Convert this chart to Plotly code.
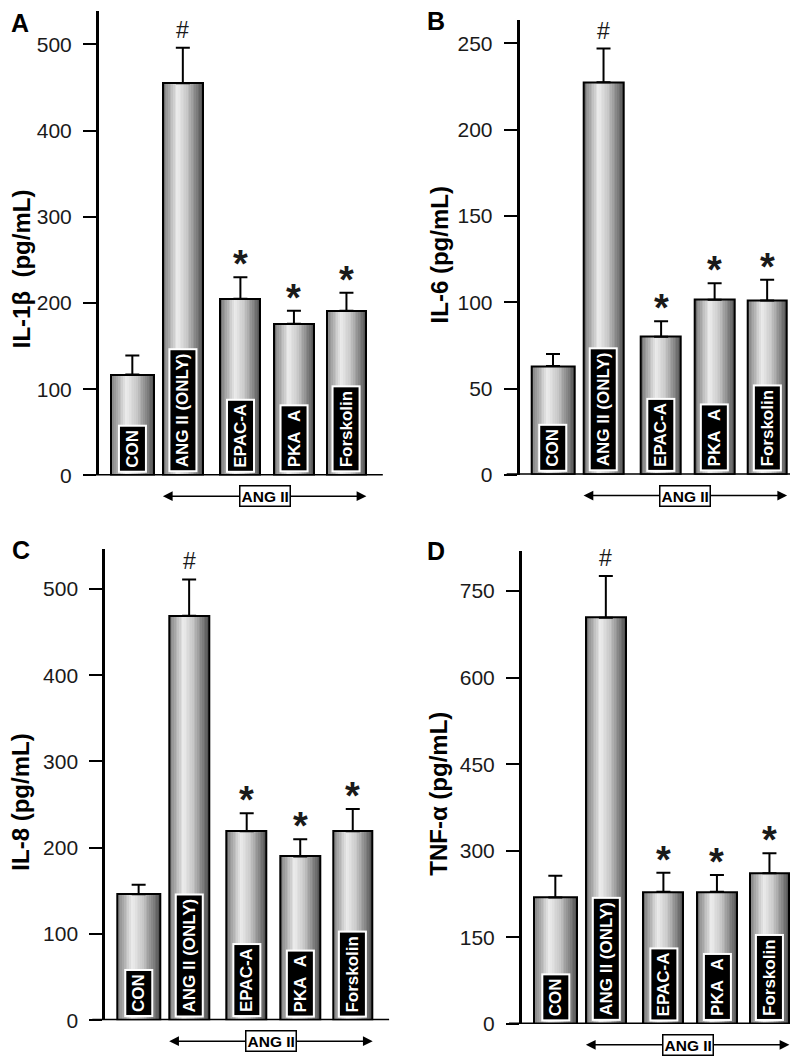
import numpy as np
import plotly.graph_objects as go

W, H = 798, 1057

# ---------------- data ----------------
groups = ["CON", "ANG II (ONLY)", "EPAC-A", "PKA\u00a0\u00a0A", "Forskolin"]
marks = ["", "#", "*", "*", "*"]

il1b_mean = [117, 455, 205, 176, 191]
il1b_sem = [22, 41, 25, 15, 21]

il6_mean = [63, 227.5, 80, 101.5, 101]
il6_sem = [7, 19.5, 9, 9.5, 12]

il8_mean = [146, 469, 219, 190, 219]
il8_sem = [11, 42, 21, 20, 26]

tnf_mean = [219, 704, 229, 229, 261]
tnf_sem = [38, 72, 33, 29, 35]

panel_letters = ["A", "B", "C", "D"]
y_titles = ["IL-1\u03b2\u00a0\u00a0(pg/mL)", "IL-6 (pg/mL)", "IL-8 (pg/mL)", "TNF-\u03b1 (pg/mL)"]
y_ticks = [
    [0, 100, 200, 300, 400, 500],
    [0, 50, 100, 150, 200, 250],
    [0, 100, 200, 300, 400, 500],
    [0, 150, 300, 450, 600, 750],
]
bracket_label = "ANG II"

means = [il1b_mean, il6_mean, il8_mean, tnf_mean]
sems = [il1b_sem, il6_sem, il8_sem, tnf_sem]

# ---------------- layout (pixel geometry) ----------------
XPOS = [0.0, 1.0, 2.14, 3.2, 4.24]
BAR_W = [0.86, 0.79, 0.79, 0.79, 0.79]
X_RANGE = [-0.66, 4.96]
UNIT_PX = 50.5
DOM_W = (X_RANGE[1] - X_RANGE[0]) * UNIT_PX

panels = [
    dict(x0=91.0, zero=472.3, top=3.0, ymax=538.8, title=(13, 264), letter=(1, 15)),
    dict(x0=511.7, zero=471.7, top=11.7, ymax=263.8, title=(431, 250), letter=(417, 13)),
    dict(x0=97.3, zero=1023.0, top=546.7, ymax=546.2, title=(13, 803), letter=(2, 548)),
    dict(x0=514.0, zero=1026.7, top=549.0, ymax=819.0, title=(431, 794), letter=(417, 549)),
]

FONT = "Liberation Sans, Arial, Helvetica, sans-serif"


def px_x(x):
    return x / W


def px_y(y):
    return 1 - y / H


# gradient profile (style)
N_STRIPS = 24
prof_t = [0.0, 0.06, 0.36, 0.6, 0.85, 1.0]
prof_v = [95, 140, 236, 200, 125, 80]

fig = go.Figure()
annotations = []
shapes = []

for p, pan in enumerate(panels):
    sfx = "" if p == 0 else str(p + 1)
    xa, ya = "x" + sfx, "y" + sfx
    m, s = means[p], sems[p]

    for i in range(N_STRIPS):
        t0 = i / N_STRIPS
        t1 = min((i + 1.6) / N_STRIPS, 1.0)
        v = int(round(np.interp((i + 0.5) / N_STRIPS, prof_t, prof_v)))
        fig.add_trace(go.Bar(
            x=XPOS, y=m,
            width=[w * (t1 - t0) for w in BAR_W],
            offset=[-w / 2 + w * t0 for w in BAR_W],
            marker=dict(color=f"rgb({v},{v},{v})", line=dict(width=0)),
            xaxis=xa, yaxis=ya, hoverinfo="skip", showlegend=False,
        ))
    fig.add_trace(go.Bar(
        x=XPOS, y=m, width=BAR_W,
        marker=dict(color="rgba(0,0,0,0)", line=dict(color="black", width=2)),
        error_y=dict(type="data", symmetric=False, array=s, arrayminus=[0] * len(s),
                     color="black", thickness=2, width=7),
        xaxis=xa, yaxis=ya, hoverinfo="skip", showlegend=False,
    ))

    dom_x = [px_x(pan["x0"]), px_x(pan["x0"] + DOM_W)]
    dom_y = [px_y(pan["zero"]), px_y(pan["top"])]
    fig.update_layout(**{
        "xaxis" + sfx: dict(domain=dom_x, range=X_RANGE, showticklabels=False, ticks="",
                            showline=False, zeroline=False, showgrid=False, anchor=ya,
                            fixedrange=True),
        "yaxis" + sfx: dict(domain=dom_y, range=[0, pan["ymax"]], tickvals=y_ticks[p],
                            ticks="outside", ticklen=13, tickwidth=2, tickcolor="black",
                            showline=True, linewidth=3, linecolor="black", showgrid=False,
                            zeroline=False, anchor=xa, ticklabelstandoff=7,
                            tickfont=dict(family=FONT, size=21, color="#1a1a1a"),
                            fixedrange=True),
    })

    # x baseline
    shapes.append(dict(type="line", xref="paper", yref=ya,
                       x0=px_x(pan["x0"] - 13), x1=px_x(pan["x0"] + DOM_W),
                       y0=0, y1=0, line=dict(color="black", width=3)))

    # labels inside bars
    for j, g in enumerate(groups):
        annotations.append(dict(
            xref=xa, yref=ya, x=XPOS[j], y=0, yanchor="bottom", xanchor="center",
            yshift=3, text=f"<b>{g}</b>", textangle=-90, showarrow=False,
            font=dict(family=FONT, size=17, color="white"),
            bgcolor="black", bordercolor="white", borderwidth=2, borderpad=3,
        ))
        if marks[j]:
            top = m[j] + s[j]
            if marks[j] == "#":
                annotations.append(dict(xref=xa, yref=ya, x=XPOS[j], y=top,
                                        yanchor="bottom", yshift=3, text="#",
                                        showarrow=False,
                                        font=dict(family=FONT, size=23, color="#1a1a1a")))
            else:
                annotations.append(dict(xref=xa, yref=ya, x=XPOS[j], y=top,
                                        yanchor="bottom", yshift=-10, text="<b>*</b>",
                                        showarrow=False,
                                        font=dict(family=FONT, size=38, color="#1a1a1a")))

    # ANG II bracket arrow
    left = XPOS[1] - BAR_W[1] / 2
    right = XPOS[4] + BAR_W[4] / 2
    mid = (left + right) / 2
    ay_paper = px_y(pan["zero"] + 21)
    for end in (left, right):
        annotations.append(dict(
            xref=xa, yref="paper", x=end, y=ay_paper, axref=xa, ax=mid,
            ayref="pixel", ay=0, text="", showarrow=True, arrowhead=2,
            arrowsize=1.3, arrowwidth=1.5, arrowcolor="black",
        ))
    annotations.append(dict(
        xref=xa, yref="paper", x=mid, y=ay_paper, xanchor="center", yanchor="middle",
        text=f"<b>{bracket_label}</b>", showarrow=False,
        font=dict(family=FONT, size=15.5, color="black"),
        bgcolor="white", bordercolor="black", borderwidth=1.5, borderpad=1,
    ))

    # y title
    tx, ty = pan["title"]
    annotations.append(dict(
        xref="paper", yref="paper", x=px_x(tx), y=px_y(ty), xanchor="center",
        yanchor="middle", textangle=-90, text=f"<b>{y_titles[p]}</b>", showarrow=False,
        font=dict(family=FONT, size=24, color="black"),
    ))
    # panel letter
    lx, ly = pan["letter"]
    annotations.append(dict(
        xref="paper", yref="paper", x=px_x(lx), y=px_y(ly), xanchor="left",
        yanchor="middle", text=f"<b>{panel_letters[p]}</b>", showarrow=False,
        font=dict(family=FONT, size=25, color="black"),
    ))

fig.update_layout(
    width=W, height=H,
    margin=dict(l=0, r=0, t=0, b=0),
    paper_bgcolor="white", plot_bgcolor="rgba(0,0,0,0)",
    barmode="overlay", bargap=0, showlegend=False,
    annotations=annotations, shapes=shapes,
    font=dict(family=FONT),
)

fig.write_html("out.html")
